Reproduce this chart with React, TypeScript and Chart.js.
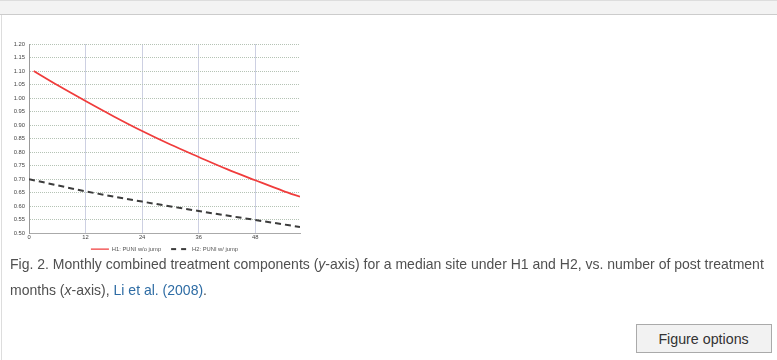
import React, { useEffect, useRef } from "react";
import { Chart, registerables } from "chart.js";

Chart.register(...registerables);

const h1Months = [1, 6, 12, 18, 24, 30, 36, 42, 48, 54, 57.5];
const h1Values = [1.1, 1.048, 0.989, 0.932, 0.878, 0.828, 0.782, 0.737, 0.696, 0.656, 0.635];
const h2Months = [0, 12, 24, 36, 48, 57.5];
const h2Values = [0.7, 0.655, 0.617, 0.582, 0.549, 0.523];
const seriesNames = ["H1: PUNI w/o jump", "H2: PUNI w/ jump"];
const xTickStep = 12;
const xMax = 57.5;
const yMin = 0.5;
const yMax = 1.2;
const yStep = 0.05;

const tickFont = { family: "'Liberation Sans', Arial, sans-serif", size: 5.8 };
const legendFont = { family: "'Liberation Sans', Arial, sans-serif", size: 5.8 };

const legendShift = {
  id: "legendShift",
  afterLayout(chart: any) {
    const lg = chart.legend;
    if (lg) {
      lg.top -= 6;
      lg.bottom -= 6;
    }
  },
};

export default function App() {
  const ref = useRef<HTMLCanvasElement | null>(null);

  useEffect(() => {
    if (!ref.current) return;
    const chart = new Chart(ref.current, {
      type: "line",
      data: {
        datasets: [
          {
            label: seriesNames[0],
            data: h1Months.map((m, i) => ({ x: m, y: h1Values[i] })),
            borderColor: "#f03c3c",
            backgroundColor: "#f03c3c",
            borderWidth: 1.8,
            pointRadius: 0,
            cubicInterpolationMode: "monotone",
          },
          {
            label: seriesNames[1],
            data: h2Months.map((m, i) => ({ x: m, y: h2Values[i] })),
            borderColor: "#3c3c3c",
            backgroundColor: "#3c3c3c",
            borderWidth: 2,
            borderDash: [6, 4],
            pointRadius: 0,
            cubicInterpolationMode: "monotone",
          },
        ],
      },
      plugins: [legendShift],
      options: {
        animation: false,
        responsive: false,
        maintainAspectRatio: false,
        layout: { padding: { top: 14, right: 10, left: 0, bottom: 0 } },
        plugins: {
          tooltip: { enabled: false },
          legend: {
            position: "bottom",
            fullSize: false,
            labels: {
              usePointStyle: true,
              pointStyle: "line",
              pointStyleWidth: 18,
              boxHeight: 6,
              padding: 10,
              color: "#555",
              font: legendFont,
              generateLabels: (c: any) =>
                Chart.defaults.plugins.legend.labels.generateLabels(c).map((item: any) => {
                  const ds: any = c.data.datasets[item.datasetIndex];
                  return {
                    ...item,
                    lineDash: ds.borderDash ? [5, 5] : [],
                    lineWidth: ds.borderDash ? 2 : 1.2,
                    strokeStyle: ds.borderColor,
                  };
                }),
            },
          },
        },
        scales: {
          x: {
            type: "linear",
            min: 0,
            max: xMax,
            afterBuildTicks: (s: any) => {
              s.ticks = s.ticks.filter((t: any) => t.value % xTickStep === 0);
            },
            afterFit: (s: any) => {
              s.height = 9;
            },
            ticks: { stepSize: xTickStep, color: "#444", font: tickFont, padding: 1, maxRotation: 0 },
            grid: { color: "#cdd0e2", lineWidth: 1, drawTicks: false },
            border: { color: "#aaa", width: 1 },
          },
          y: {
            type: "linear",
            min: yMin,
            max: yMax,
            afterFit: (s: any) => {
              s.width = 29;
            },
            ticks: {
              stepSize: yStep,
              color: "#444",
              font: tickFont,
              padding: 4,
              callback: (v: any) => Number(v).toFixed(2),
            },
            grid: { color: "#b5c3b5", lineWidth: 1, drawTicks: false },
            border: { color: "#999", width: 1, dash: [1, 1] },
          },
        },
      },
    });
    return () => chart.destroy();
  }, []);

  return (
    <div
      style={{
        position: "fixed",
        left: 0,
        top: 0,
        width: 777,
        height: 360,
        background: "#fff",
        overflow: "hidden",
        fontFamily: "'Liberation Sans', Arial, sans-serif",
      }}
    >
      <div
        style={{
          position: "absolute",
          left: 0,
          top: 0,
          width: 777,
          height: 15,
          background: "#f3f3f3",
          borderTop: "1px solid #ddd",
          borderBottom: "1px solid #ccc",
          boxSizing: "border-box",
        }}
      />
      <div
        style={{
          position: "absolute",
          left: 1,
          top: 15,
          width: 1,
          height: 345,
          background: "#ddd",
        }}
      />
      <canvas
        ref={ref}
        width={310}
        height={238}
        style={{ position: "absolute", left: 0, top: 30, width: 310, height: 238 }}
      />
      <div
        style={{
          position: "absolute",
          left: 10,
          top: 251,
          width: 900,
          fontSize: 15,
          lineHeight: "26px",
          color: "#505050",
          whiteSpace: "nowrap",
          transform: "scaleX(0.934)",
          transformOrigin: "0 0",
        }}
      >
        <div>
          Fig. 2. Monthly combined treatment components (<i>y</i>-axis) for a median site under H1 and H2, vs. number of post treatment
        </div>
        <div>
          months (<i>x</i>-axis), <span style={{ color: "#2e6ca4" }}>Li et al. (2008)</span>.
        </div>
      </div>
      <div
        style={{
          position: "absolute",
          left: 636,
          top: 324,
          width: 136,
          height: 29,
          boxSizing: "border-box",
          border: "1px solid #aaa",
          background: "#f2f2f2",
          color: "#333",
          fontSize: 15,
          lineHeight: "27px",
          textAlign: "center",
        }}
      >
        <span style={{ display: "inline-block", transform: "scaleX(0.95)" }}>Figure options</span>
      </div>
    </div>
  );
}
